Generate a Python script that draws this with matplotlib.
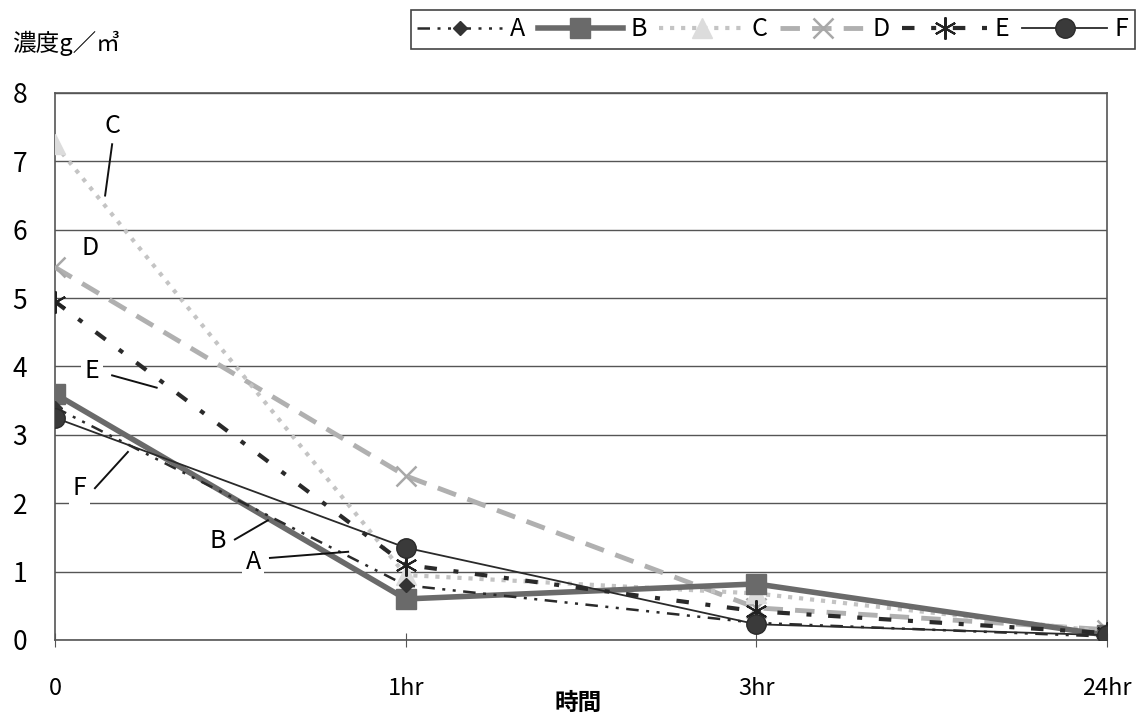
import numpy as np
import matplotlib
matplotlib.use("Agg")
import matplotlib.pyplot as plt

plt.rcParams['font.family'] = ['Noto Sans CJK JP', 'DejaVu Sans']

times = ['0', '1hr', '3hr', '24hr']
A = [3.4, 0.8, 0.25, 0.05]
B = [3.6, 0.6, 0.82, 0.07]
C = [7.25, 0.95, 0.68, 0.12]
D = [5.45, 2.4, 0.47, 0.15]
E = [4.95, 1.1, 0.42, 0.1]
F = [3.25, 1.35, 0.23, 0.07]

x = np.arange(len(times))

fig = plt.figure(figsize=(11.38, 7.19), dpi=100)
ax = fig.add_axes([0.0483, 0.1099, 0.9245, 0.7608])

ax.plot(x, D, color='#b0b0b0', lw=3.5, dashes=(4, 2.5), marker='x', ms=14, mew=1.8,
        mec='#a8a8a8', label='D', zorder=3)
ax.plot(x, C, color='#c4c4c4', lw=3, ls=':', marker='^', ms=14, mfc='#dcdcdc',
        mec='#dcdcdc', label='C', zorder=3)
ax.plot(x, B, color='#6a6a6a', lw=4, marker='s', ms=14, mfc='#6a6a6a', mec='#6a6a6a',
        label='B', zorder=4)
ax.plot(x, E, color='#2a2a2a', lw=3, dashes=(3, 4, 1.2, 4), marker=(6, 2, 0), ms=16,
        mew=1.5, mec='#222222', label='E', zorder=5)
ax.plot(x, A, color='#2a2a2a', lw=1.8, dashes=(5, 3, 1.2, 3, 1.2, 3), marker='D', ms=7,
        mfc='#333333', mec='#333333', label='A', zorder=5)
ax.plot(x, F, color='#2a2a2a', lw=1.3, marker='o', ms=14, mfc='#3a3a3a', mec='#2a2a2a',
        label='F', zorder=6)

ax.set_xlim(0, 3)
ax.set_ylim(0, 8)
ax.set_yticks(range(0, 9))
ax.yaxis.grid(True, color='#555555', lw=1)
ax.set_axisbelow(True)
ax.set_xticks(x)
ax.set_xticklabels(times)
ax.tick_params(axis='x', direction='inout', length=10, pad=22, labelsize=17, color='#555555')
ax.tick_params(axis='y', length=0, pad=20, labelsize=19)
for s in ax.spines.values():
    s.set_color('#555555')
    s.set_linewidth(1.2)

fig.text(0.508, 0.022, '時間', fontsize=17, fontweight='bold', ha='center', va='center')
fig.text(0.011, 0.94, '濃度g／㎥', fontsize=17, va='center', ha='left')

# series labels with leader lines
box = dict(boxstyle='square,pad=0.15', fc='white', ec='none')
ax.text(0.163, 7.52, 'C', fontsize=18, ha='center', va='center')
ax.plot([0.163, 0.143], [7.25, 6.5], color='#111111', lw=1.4, zorder=7)
ax.text(0.1, 5.73, 'D', fontsize=18, ha='center', va='center')
ax.text(0.105, 3.94, 'E', fontsize=18, ha='center', va='center', bbox=box)
ax.plot([0.163, 0.29], [3.87, 3.69], color='#111111', lw=1.4, zorder=7)
ax.text(0.071, 2.22, 'F', fontsize=18, ha='center', va='center', bbox=box)
ax.plot([0.114, 0.208], [2.22, 2.75], color='#111111', lw=1.4, zorder=7)
ax.text(0.465, 1.45, 'B', fontsize=18, ha='center', va='center', bbox=box)
ax.plot([0.513, 0.607], [1.47, 1.75], color='#111111', lw=1.4, zorder=7)
ax.text(0.565, 1.14, 'A', fontsize=18, ha='center', va='center', bbox=box)
ax.plot([0.613, 0.836], [1.2, 1.29], color='#111111', lw=1.4, zorder=7)

handles, labels = ax.get_legend_handles_labels()
order = ['A', 'B', 'C', 'D', 'E', 'F']
hmap = dict(zip(labels, handles))
leg = fig.legend([hmap[k] for k in order], order, loc='upper right',
                 bbox_to_anchor=(0.997, 0.986), borderaxespad=0, ncol=6, fontsize=18,
                 handlelength=3.4, handletextpad=0.3, columnspacing=0.5,
                 borderpad=0.25, fancybox=False, edgecolor='#444444', framealpha=1)
leg.get_frame().set_linewidth(1.2)

fig.savefig('out.png', dpi=100)
